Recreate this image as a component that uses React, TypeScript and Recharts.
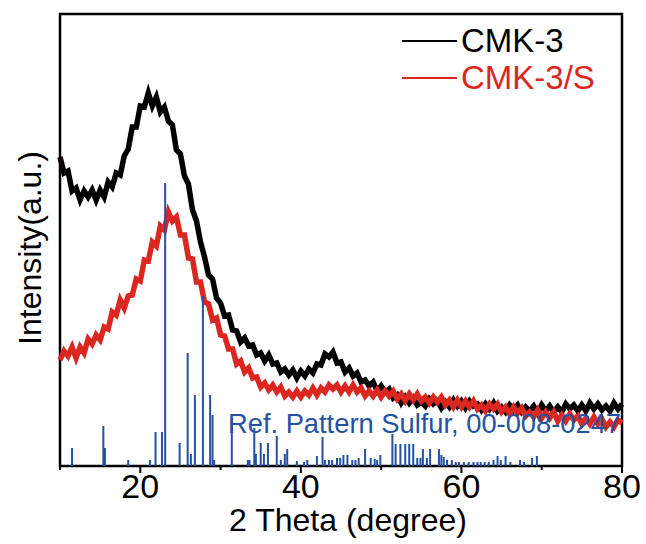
import {
  ComposedChart,
  Line,
  XAxis,
  YAxis,
  ReferenceLine,
  ReferenceArea,
} from 'recharts';

const FONT = '"Liberation Sans", Arial, Helvetica, sans-serif';
const BLUE = '#2452a3';
const RED = '#dc2620';

// 2θ sampling grid (degrees)
const THETA = [
  10, 10.5, 11, 11.5, 12, 12.5, 13, 13.5, 14, 14.5, 15, 15.5, 16, 16.5, 17, 17.5, 18, 18.5, 19, 19.5,
  20, 20.5, 21, 21.5, 22, 22.5, 23, 23.5, 24, 24.5, 25, 25.5, 26, 26.5, 27, 27.5, 28, 28.5, 29, 29.5,
  30, 30.5, 31, 31.5, 32, 32.5, 33, 33.5, 34, 34.5, 35, 35.5, 36, 36.5, 37, 37.5, 38, 38.5, 39, 39.5,
  40, 40.5, 41, 41.5, 42, 42.5, 43, 43.5, 44, 44.5, 45, 45.5, 46, 46.5, 47, 47.5, 48, 48.5, 49, 49.5,
  50, 50.5, 51, 51.5, 52, 52.5, 53, 53.5, 54, 54.5, 55, 55.5, 56, 56.5, 57, 57.5, 58, 58.5, 59, 59.5,
  60, 60.5, 61, 61.5, 62, 62.5, 63, 63.5, 64, 64.5, 65, 65.5, 66, 66.5, 67, 67.5, 68, 68.5, 69, 69.5,
  70, 70.5, 71, 71.5, 72, 72.5, 73, 73.5, 74, 74.5, 75, 75.5, 76, 76.5, 77, 77.5, 78, 78.5, 79, 79.5,
  80,
];

// CMK-3 intensity (a.u.)
const CMK3 = [
  309, 293, 295, 275, 278, 266, 275, 269, 276, 266, 276, 269, 284, 279, 293, 291, 310, 317, 339, 339,
  360, 359, 373, 360, 369, 354, 359, 345, 341, 316, 312, 290, 282, 256, 245, 224, 209, 191, 187, 168,
  163, 150, 151, 136, 135, 124, 128, 120, 121, 111, 113, 105, 111, 102, 103, 94, 97, 91, 96, 88,
  95, 90, 97, 93, 102, 101, 112, 109, 114, 103, 104, 94, 98, 90, 93, 84, 86, 80, 84, 75,
  80, 74, 77, 68, 71, 63, 69, 63, 68, 61, 64, 60, 67, 62, 65, 58, 64, 59, 66, 60,
  65, 58, 65, 60, 62, 56, 62, 57, 63, 55, 59, 54, 61, 56, 61, 54, 59, 55, 60, 53,
  61, 55, 60, 54, 59, 54, 62, 57, 61, 55, 61, 55, 63, 57, 62, 56, 60, 55, 63, 57,
  62,
];

// CMK-3/S intensity (a.u.)
const CMK3S = [
  106, 115, 110, 119, 108, 119, 113, 127, 122, 131, 126, 139, 137, 154, 151, 166, 158, 170, 171, 187,
  185, 206, 205, 224, 220, 240, 236, 254, 245, 249, 231, 231, 208, 207, 184, 184, 164, 162, 146, 148,
  131, 130, 117, 117, 102, 105, 94, 98, 88, 89, 79, 83, 76, 81, 74, 79, 70, 74, 69, 75,
  69, 75, 71, 78, 71, 78, 74, 81, 77, 81, 74, 80, 74, 81, 74, 78, 70, 75, 70, 76,
  69, 75, 70, 75, 67, 72, 65, 72, 66, 72, 65, 69, 63, 69, 64, 69, 61, 66, 59, 66,
  59, 65, 59, 65, 57, 61, 55, 62, 57, 62, 54, 59, 52, 59, 53, 58, 50, 54, 49, 56,
  48, 54, 48, 54, 45, 51, 45, 52, 46, 50, 42, 48, 42, 49, 42, 47, 39, 44, 39, 46,
  43,
];

// reference pattern: sulfur, 00-008-0247
const REF_POS = [
  11.5, 15.4, 15.6, 18.5, 21.2, 21.9, 22.7, 23.1, 24.9, 25.9, 26.3, 26.8, 27.8, 28.7, 29.0, 29.2,
  31.4, 33.4, 33.6, 34.2, 34.4, 35.0, 35.4, 35.9, 37.0, 37.5, 38.0, 38.3, 39.5, 40.4, 40.8, 42.0,
  42.7, 43.0, 43.5, 43.9, 44.5, 44.9, 45.3, 45.8, 46.4, 46.8, 47.2, 48.0, 48.7, 49.2, 49.5, 49.9,
  51.4, 51.8, 52.4, 53.0, 53.5, 54.0, 54.5, 54.9, 55.2, 55.7, 56.1, 57.2, 57.5, 57.8, 58.2, 58.8,
  59.3, 59.7, 60.3, 60.9, 61.5, 62.0, 62.4, 62.9, 63.4, 64.0, 64.5, 64.9, 65.5, 66.1, 67.3, 67.8,
  68.8, 69.4,
];
const REF_INT = [
  18, 40, 18, 6, 6, 34, 34, 283, 23, 113, 12, 71, 170, 71, 51, 6,
  48, 6, 6, 38, 12, 23, 12, 23, 30, 6, 12, 17, 5, 4, 6, 10,
  29, 6, 6, 6, 8, 8, 11, 11, 6, 6, 8, 17, 8, 7, 6, 11,
  32, 22, 22, 22, 22, 22, 8, 8, 17, 8, 17, 17, 11, 9, 6, 6,
  4, 4, 4, 4, 4, 4, 4, 4, 4, 6, 10, 6, 10, 4, 6, 4,
  8, 10,
];

const X_TICKS = [10, 20, 30, 40, 50, 60, 70, 80];

const SERIES = [
  { key: 'cmk3', name: 'CMK-3', color: '#000' },
  { key: 'cmk3s', name: 'CMK-3/S', color: RED },
];

const rows = THETA.map((t, i) => ({ theta: t, cmk3: CMK3[i], cmk3s: CMK3S[i] }));

function ThetaTick({ x, y, payload }: any) {
  const major = payload.value % 20 === 0;
  return (
    <g>
      <line x1={x} x2={x} y1={y} y2={y + (major ? 7 : 4)} stroke="#000" strokeWidth={2} />
      {major && (
        <text x={x} y={y + 32} textAnchor="middle" fontSize={34} fontFamily={FONT} fill="#000">
          {payload.value}
        </text>
      )}
    </g>
  );
}

export default function App() {
  return (
    <div style={{ position: 'absolute', left: 0, top: 0, width: 646, height: 544, background: '#fff' }}>
      <ComposedChart width={646} height={544} data={rows} margin={{ top: 14, right: 24, left: 0, bottom: 0 }}>
        <XAxis
          dataKey="theta"
          type="number"
          domain={[10, 80]}
          ticks={X_TICKS}
          interval={0}
          height={78}
          axisLine={false}
          tickLine={false}
          tickSize={0}
          tickMargin={0}
          tick={<ThetaTick />}
          label={{
            value: '2 Theta (degree)',
            position: 'insideBottom',
            offset: 13,
            dx: 7,
            style: { fontSize: 32, fontFamily: FONT, fill: '#000' },
          }}
        />
        <YAxis
          type="number"
          domain={[0, 452]}
          width={60}
          axisLine={false}
          tickLine={false}
          tick={false}
          label={{
            value: 'Intensity(a.u.)',
            angle: -90,
            position: 'center',
            dy: 8,
            style: { fontSize: 32, fontFamily: FONT, fill: '#000' },
          }}
        />
        {SERIES.map((s) => (
          <Line
            key={s.key}
            dataKey={s.key}
            name={s.name}
            stroke={s.color}
            strokeWidth={5.5}
            strokeLinejoin="miter"
            dot={false}
            type="linear"
            isAnimationActive={false}
          />
        ))}
        {REF_POS.map((p, i) => (
          <ReferenceLine
            key={'ref' + i}
            segment={[
              { x: p, y: 0 },
              { x: p, y: REF_INT[i] },
            ]}
            stroke={BLUE}
            strokeWidth={2}
          />
        ))}
        <ReferenceArea x1={10} x2={80} y1={0} y2={452} fill="none" fillOpacity={0} stroke="#000" strokeWidth={2.5} />
      </ComposedChart>

      <div style={{ position: 'absolute', left: 402, top: 22, fontFamily: FONT, fontSize: 33 }}>
        {SERIES.map((s) => (
          <div key={s.key} style={{ display: 'flex', alignItems: 'center', height: 37, lineHeight: '37px' }}>
            <span style={{ width: 55, height: 2, background: s.color, marginRight: 4 }} />
            <span style={{ color: s.color }}>{s.name}</span>
          </div>
        ))}
      </div>

      <div
        style={{
          position: 'absolute',
          left: 228,
          top: 410,
          fontFamily: FONT,
          fontSize: 27.3,
          lineHeight: '27px',
          color: BLUE,
          whiteSpace: 'nowrap',
        }}
      >
        Ref. Pattern Sulfur, 00-008-0247
      </div>
    </div>
  );
}
